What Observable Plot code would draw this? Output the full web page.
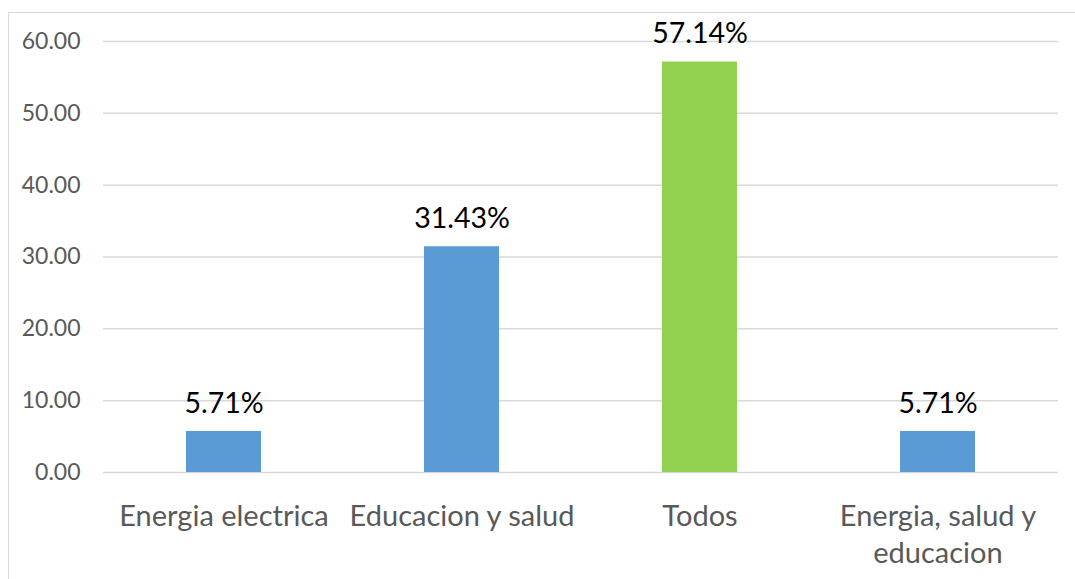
<!DOCTYPE html>
<html>
<head>
<meta charset="utf-8">
<script src="https://cdn.jsdelivr.net/npm/d3@7"></script>
<script src="https://cdn.jsdelivr.net/npm/@observablehq/plot@0.6"></script>
<style>
  html, body { margin: 0; padding: 0; background: #fff; }
  #wrap { position: relative; width: 1075px; height: 579px; overflow: hidden; }
  #frame { position: absolute; left: 8px; top: 12px; width: 1200px; height: 700px; border: 1.5px solid #d9d9d9; box-sizing: border-box; }
  #chart { position: absolute; left: 0; top: 0; }
</style>
</head>
<body>
<div id="wrap"><div id="frame"></div><div id="chart"></div></div>
<script>
const categories = ["Energia electrica", "Educacion y salud", "Todos", "Energia, salud y educacion"];
const values = [5.71, 31.43, 57.14, 5.71];
const axisLabels = ["Energia electrica", "Educacion y salud", "Todos", "Energia, salud y\neducacion"];
const yTicks = [0, 10, 20, 30, 40, 50, 60];

const data = categories.map((c, i) => ({cat: c, value: values[i]}));
const labelOf = new Map(categories.map((c, i) => [c, axisLabels[i]]));
const font = "Lato, 'Open Sans', sans-serif";

const chart = Plot.plot({
  width: 1075,
  height: 579,
  marginLeft: 103,
  marginRight: 17,
  marginTop: 41,
  marginBottom: 107,
  style: {fontFamily: font, background: "transparent"},
  x: {domain: categories, paddingInner: 0.686, paddingOuter: 0.343, label: null},
  y: {domain: [0, 60], label: null},
  marks: [
    Plot.gridY(yTicks, {stroke: "#d9d9d9", strokeOpacity: 1, strokeWidth: 1.5}),
    Plot.axisY(yTicks, {tickSize: 0, tickPadding: 23, tickFormat: d => d.toFixed(2), fontSize: 23, fill: "#595959", label: null}),
    Plot.axisX({tickSize: 0, tickPadding: 27, tickFormat: d => labelOf.get(d), fontSize: 29, fill: "#595959", label: null, lineHeight: 1.28}),
    Plot.barY(data, {x: "cat", y: "value", fill: d => d.cat === "Todos" ? "#92D050" : "#5B9BD5"}),
    Plot.text(data, {x: "cat", y: "value", text: d => d.value.toFixed(2) + "%", dy: -28, fontSize: 28.5, fill: "#000"})
  ]
});
document.getElementById("chart").appendChild(chart);
</script>
</body>
</html>
